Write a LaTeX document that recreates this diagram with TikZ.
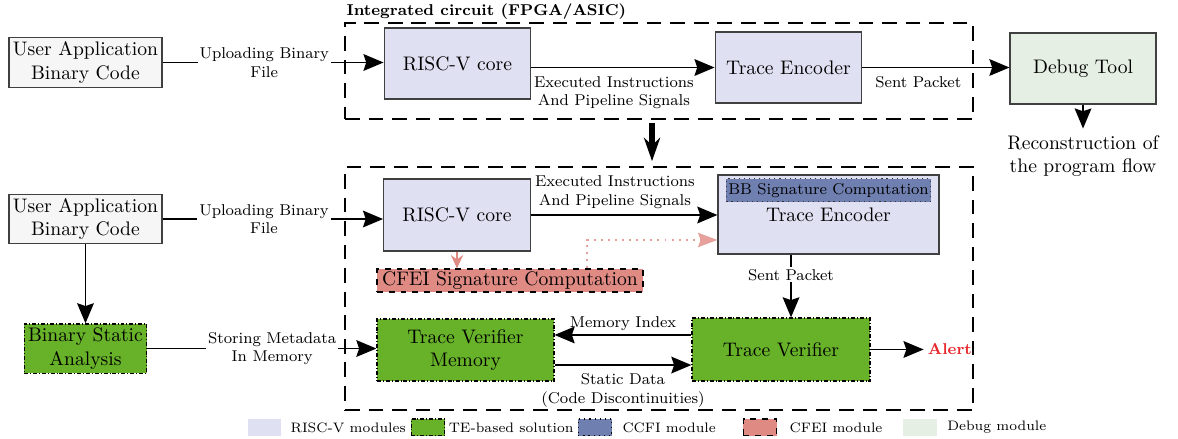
\documentclass[tikz,border=0pt]{standalone}
\usepackage{tikz}
\usetikzlibrary{positioning,arrows.meta}
\usepackage{xcolor}

\definecolor{riscfill}{RGB}{223,224,242}
\definecolor{tefill}{RGB}{103,178,41}
\definecolor{ccfifill}{RGB}{111,127,176}
\definecolor{cfeifill}{RGB}{224,138,132}
\definecolor{debugfill}{RGB}{230,239,227}
\definecolor{appfill}{RGB}{246,246,246}
\definecolor{alertred}{RGB}{232,40,45}

\begin{document}
\begin{tikzpicture}[
    box/.style={draw=black!75, semithick, align=center, inner sep=2pt},
    risc/.style={box, fill=riscfill, minimum width=2.63cm, minimum height=1.27cm},
    tebox/.style={box, draw=black, fill=tefill, dash pattern=on 2pt off 1pt on 0.5pt off 1pt},
    arr/.style={thick, -{Stealth[length=3.6mm,width=3mm,inset=0.5mm]}},
    lbl/.style={font=\footnotesize, align=center, inner sep=1pt},
    onlbl/.style={lbl, fill=white},
    icbox/.style={draw, thick, dash pattern=on 7.5pt off 4.5pt, minimum width=11.254cm},
    swatch/.style={minimum width=0.6cm, minimum height=0.3cm, inner sep=0pt},
    legtext/.style={font=\scriptsize, inner sep=1pt}
]
\useasboundingbox (0,0) rectangle (21.111,-7.867);

% Integrated circuit boxes
\node[icbox, minimum height=1.72cm] (ic1) at (11.81,-1.272) {};
\node[icbox, minimum height=4.355cm] (ic2) at (11.81,-5.17) {};
\node[anchor=south west, font=\footnotesize\bfseries, inner sep=1pt] (ictitle) at (ic1.north west) {Integrated circuit (FPGA/ASIC)};

% Top: classic trace flow
\node[box, fill=appfill, minimum width=2.742cm, minimum height=0.842cm] (app1) at (1.532,-1.12) {User Application\\Binary Code};
\node[risc] (core1) at (8.199,-1.138) {RISC-V core};
\node[risc] (enc1) at (14.131,-1.21) {Trace Encoder};
\node[box, fill=debugfill, minimum width=2.616cm, minimum height=1.27cm] (debug) at (19.409,-1.228) {Debug Tool};
\node[align=center, below=0.43cm of debug] (recon) {Reconstruction of\\the program flow};

\draw[arr] (app1.east) -- (app1.east -| core1.west) node[onlbl, pos=0.46] {Uploading Binary\\File};
\draw[arr] (core1.east |- enc1.west) -- (enc1.west) node[lbl, pos=0.45, below=3pt] {Executed Instructions\\And Pipeline Signals};
\draw[arr] (enc1.east) -- (enc1.east -| debug.west) node[lbl, pos=0.38, below=3pt] {Sent Packet};
\draw[arr] (debug.south) -- (debug.south |- recon.north);

% Transition
\draw[line width=3.5pt, -{Stealth[length=4.2mm,width=2.9mm]}] ([xshift=-0.125cm,yshift=-0.05cm]ic1.south) -- ([xshift=-0.125cm,yshift=0.09cm]ic2.north);

% Bottom: proposed flow
\node[box, fill=appfill, minimum width=2.742cm, minimum height=0.842cm] (app2) at (1.532,-3.925) {User Application\\Binary Code};
\node[tebox, minimum width=2.168cm, minimum height=0.842cm] (static) at (1.532,-6.246) {Binary Static\\Analysis};
\node[risc, minimum height=1.29cm] (core2) at (8.19,-3.853) {RISC-V core};
\node[box, fill=riscfill, minimum width=3.961cm, minimum height=1.416cm] (enc2) at (14.848,-3.844) {Trace Encoder};
\node[box, draw=black!80, fill=ccfifill, dotted, font=\footnotesize, minimum width=3.62cm, minimum height=0.41cm, inner sep=1pt, anchor=north] (bbsig) at ([yshift=-0.07cm]enc2.north) {BB Signature Computation};
\node[box, draw=black, fill=cfeifill, dashed, minimum width=4.767cm, minimum height=0.412cm, inner sep=1pt] (cfei) at (9.14,-5.027) {CFEI Signature Computation};
\node[tebox, minimum width=3.172cm, minimum height=1.111cm] (tvmem) at (8.342,-6.272) {Trace Verifier\\Memory};
\node[tebox, minimum width=3.19cm, minimum height=1.129cm] (tv) at (13.996,-6.263) {Trace Verifier};
\node[font=\footnotesize\bfseries, text=alertred, inner sep=2pt, right=0.95cm of tv] (alert) {Alert};

\draw[arr] (app2.east) -- (app2.east -| core2.west) node[onlbl, pos=0.46] {Uploading Binary\\File};
\draw[arr] (app2.south) -- (static.north);
\draw[arr] (static.east) -- (static.east -| tvmem.west) node[onlbl, pos=0.545] {Storing Metadata\\In Memory};
\draw[arr] (core2.east) -- (core2.east -| enc2.west) node[lbl, pos=0.45, above=2pt] {Executed Instructions\\And Pipeline Signals};
\draw[semithick, cfeifill, -{Stealth[length=2.4mm,width=2.2mm]}] (core2.south) -- (core2.south |- cfei.north);
\draw[semithick, cfeifill!80!white, dash pattern=on 1pt off 2.6pt, -{Stealth[length=3.5mm,width=2.6mm,inset=0.5mm]}] ([xshift=1.38cm]cfei.north) |- ([yshift=-0.457cm]enc2.west);
\draw[arr] ([xshift=-0.672cm]enc2.south) -- ([xshift=-0.672cm]enc2.south |- tv.north) node[onlbl, pos=0.32] {Sent Packet};
\draw[arr] ([yshift=0.26cm]tv.west) -- ([yshift=0.26cm]tv.west -| tvmem.east) node[lbl, midway, above=1pt] {Memory Index};
\draw[arr] ([yshift=-0.27cm]tvmem.east) -- ([yshift=-0.27cm]tvmem.east -| tv.west) node[lbl, midway, below=3pt] {Static Data\\(Code Discontinuities)};
\draw[arr] (tv.east) -- (alert.west);

% Legend
\node[swatch, fill=riscfill] (leg1) at (4.74,-7.66) {};
\node[legtext, right=0.12cm of leg1] (legt1) {RISC-V modules};
\node[swatch, fill=tefill, draw, semithick, dash pattern=on 2pt off 1pt on 0.5pt off 1pt] (leg2) at (7.67,-7.66) {};
\node[legtext, right=0.02cm of leg2] (legt2) {TE-based solution};
\node[swatch, fill=ccfifill, draw, semithick, dotted] (leg3) at (10.663,-7.66) {};
\node[legtext, right=0.14cm of leg3] (legt3) {CCFI module};
\node[swatch, fill=cfeifill, draw, semithick, dashed] (leg4) at (13.62,-7.66) {};
\node[legtext, right=0.18cm of leg4] (legt4) {CFEI module};
\node[swatch, fill=debugfill] (leg5) at (16.487,-7.66) {};
\node[legtext, right=0.14cm of leg5] (legt5) {Debug module};
\end{tikzpicture}
\end{document}
